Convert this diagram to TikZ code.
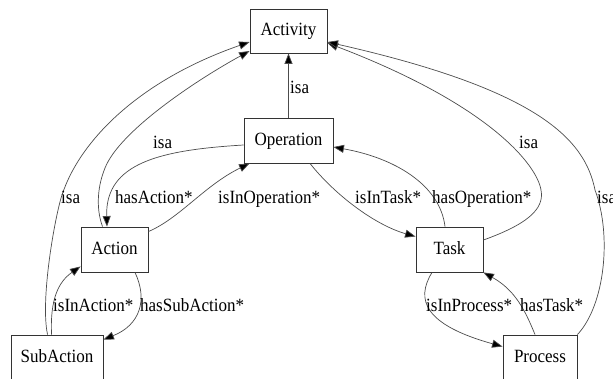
\documentclass[tikz,border=0pt]{standalone}
\usepackage{fontspec}
\usepackage{graphicx}
\setmainfont{Liberation Serif}
\usetikzlibrary{arrows.meta,calc}

% slightly taller lettering
\newcommand{\tall}[1]{\scalebox{1}[1.1]{#1}}

\begin{document}
\begin{tikzpicture}[
    x=1pt, y=-1pt,
    every node/.style={font=\fontsize{17}{19}\selectfont, text=black},
    cls/.style={draw=black!80, line width=0.9pt, fill=white, inner sep=0pt,
                text height=1.05em, text depth=0.1em},
    rel/.style={draw=black!70, line width=0.7pt,
                -{Triangle[length=10.5pt,width=8pt,fill=black]}},
    lbl/.style={anchor=base west, inner sep=0pt}
  ]
  \path[use as bounding box] (0,0) rectangle (613,378);
  \clip (0,0) rectangle (613,378);

  % classes
  \node[cls, minimum width=77pt, minimum height=44pt] (act)    at (288.5,31)    {\tall{Activity}};
  \node[cls, minimum width=89pt, minimum height=45pt] (op)     at (288.5,140.5) {\tall{Operation}};
  \node[cls, minimum width=67pt, minimum height=45pt] (action) at (114.5,249.5) {\tall{Action}};
  \node[cls, minimum width=67pt, minimum height=45pt] (task)   at (449.5,249.5) {\tall{Task}};
  \node[cls, minimum width=92pt, minimum height=45pt] (sub)    at (57,357.5)    {\tall{SubAction}};
  \node[cls, minimum width=74pt, minimum height=45pt] (proc)   at (540,357.5)   {\tall{Process}};

  % isa links to Activity
  \draw[rel] (op.north) -- (act.south);
  \draw[rel] ($(action.north west)+(22,0)$)
      .. controls (97,212) and (96,190) .. (105,168)
      .. controls (120,130) and (200,78) .. ($(act.west)+(0,20)$);
  \draw[rel] ($(sub.north west)+(37,0)$)
      .. controls (40,300) and (55,216) .. (62,195)
      .. controls (80,140) and (140,80) .. ($(act.west)+(0,11)$);
  \draw[rel] ($(task.east)+(0,-9.5)$)
      .. controls (525,225) and (545,210) .. (541,190)
      .. controls (537,165) and (490,105) .. ($(act.east)+(0,12)$);
  \draw[rel] (proc.north east)
      .. controls (605,305) and (612,235) .. (595,190)
      .. controls (585,140) and (540,90) .. ($(act.east)+(0,11)$);

  % Operation <-> Action
  \draw[rel] ($(op.west)+(0,4.5)$)
      .. controls (160,150) and (105,163) .. ($(action.north)+(-7.5,0)$);
  \draw[rel] ($(action.north east)+(0,5)$)
      .. controls (180,218) and (205,185) .. ($(op.south west)+(6,0)$);

  % Operation <-> Task
  \draw[rel] ($(op.south)+(21.5,0)$)
      .. controls (335,195) and (375,225) .. ($(task.north west)+(0,10)$);
  \draw[rel] ($(task.north)+(-4.5,0)$)
      .. controls (440,185) and (395,158) .. ($(op.east)+(0,6.5)$);

  % Task <-> Process
  \draw[rel] ($(task.south)+(-17.5,0)$)
      .. controls (415,300) and (425,325) .. ($(proc.north west)+(0,12)$);
  \draw[rel] ($(proc.north)+(-5,0)$)
      .. controls (525,310) and (515,290) .. (task.south east);

  % Action <-> SubAction
  \draw[rel] ($(action.south)+(20.5,0)$)
      .. controls (148,300) and (140,325) .. ($(sub.north east)+(0,5)$);
  \draw[rel] ($(sub.north west)+(41,0)$)
      .. controls (50,300) and (58,282) .. ($(action.south west)+(0,-6)$);

  % relation labels
  \node[lbl] (l1)  at (290,93)  {\tall{isa}};
  \node[lbl] (l2)  at (153,148) {\tall{isa}};
  \node[lbl] (l3)  at (61,203)  {\tall{isa}};
  \node[lbl] (l4)  at (115,203) {\tall{hasAction*}};
  \node[lbl] (l5)  at (218,203) {\tall{isInOperation*}};
  \node[lbl] (l6)  at (355,203) {\tall{isInTask*}};
  \node[lbl] (l7)  at (432,203) {\tall{hasOperation*}};
  \node[lbl] (l8)  at (519,148) {\tall{isa}};
  \node[lbl] (l9)  at (597,203) {\tall{isa}};
  \node[lbl] (l10) at (426,311) {\tall{isInProcess*}};
  \node[lbl] (l11) at (520,311) {\tall{hasTask*}};
  \node[lbl] (l12) at (140,311) {\tall{hasSubAction*}};
  \node[lbl] (l13) at (53,311)  {\tall{isInAction*}};
\end{tikzpicture}
\end{document}
